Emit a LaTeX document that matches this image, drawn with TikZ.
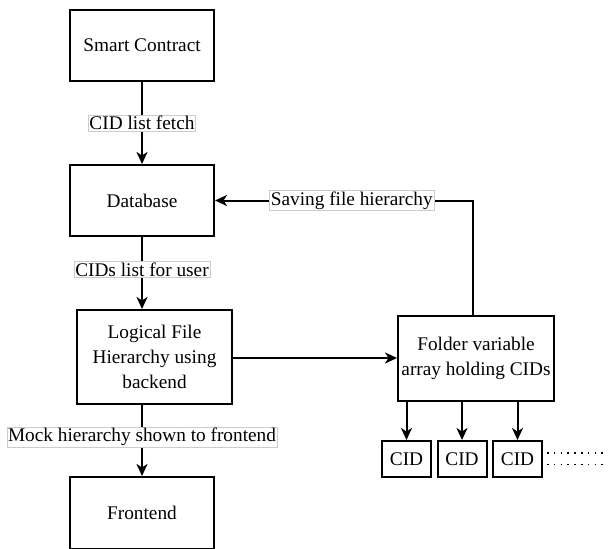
\documentclass[tikz,border=0pt]{standalone}
\usepackage{fontspec}
\setmainfont{Liberation Serif}
\usetikzlibrary{arrows.meta}
\begin{document}
\begin{tikzpicture}[x=1pt,y=-1pt,
  box/.style={draw=black,line width=2pt,fill=white,align=center,inner sep=0pt,
    font=\fontsize{19.3}{25}\selectfont},
  cidbox/.style={draw=black,line width=2pt,fill=white,inner sep=0pt,
    minimum width=49pt,minimum height=36pt,font=\fontsize{19.3}{24}\selectfont},
  lbl/.style={draw=black!20,line width=0.6pt,fill=white,inner sep=1.2pt,
    font=\fontsize{19.3}{22}\selectfont},
  conn/.style={line width=2pt,-{Stealth[length=12pt,width=11pt,inset=3.5pt]}},
  dots/.style={line width=1.6pt,dash pattern=on 1.6pt off 5.2pt},
]
\useasboundingbox (0,0) rectangle (608,549);
\node[box,minimum width=144pt,minimum height=71pt] (sc) at (142,45.5) {Smart Contract};
\node[box,minimum width=144pt,minimum height=71pt] (db) at (142,200.5) {Database};
\node[box,minimum width=155pt,minimum height=94pt] (lf) at (154.5,357) {Logical File\\Hierarchy using\\backend};
\node[box,minimum width=156pt,minimum height=85pt] (fv) at (476,358) {Folder variable\\array holding CIDs};
\node[box,minimum width=144pt,minimum height=72pt] (fe) at (142,513) {Frontend};
\node[cidbox] (c1) at (406.5,459) {CID};
\node[cidbox] (c2) at (462,459) {CID};
\node[cidbox] (c3) at (517.5,459) {CID};
\draw[conn] (sc.south) -- node[lbl] {CID list fetch} (db.north);
\draw[conn] (db.south) -- node[lbl,pos=0.45] {CIDs list for user} (db.south |- lf.north);
\draw[conn] (db.south |- lf.south) -- node[lbl,pos=0.45] {Mock hierarchy shown to frontend} (fe.north);
\draw[conn] (lf.east |- fv.west) -- (fv.west);
\coordinate (up) at (473,200.5);
\draw[conn] (fv.north -| up) -- (up) -- node[lbl,pos=0.47] {Saving file hierarchy} (db.east);
\draw[conn] (fv.south -| c1) -- (c1.north);
\draw[conn] (fv.south -| c2) -- (c2.north);
\draw[conn] (fv.south -| c3) -- (c3.north);
\coordinate (d1) at (547,453);
\coordinate (d2) at (547,464.5);
\draw[dots] (d1) -- ++(62,0);
\draw[dots] (d2) -- ++(62,0);
\end{tikzpicture}
\end{document}
